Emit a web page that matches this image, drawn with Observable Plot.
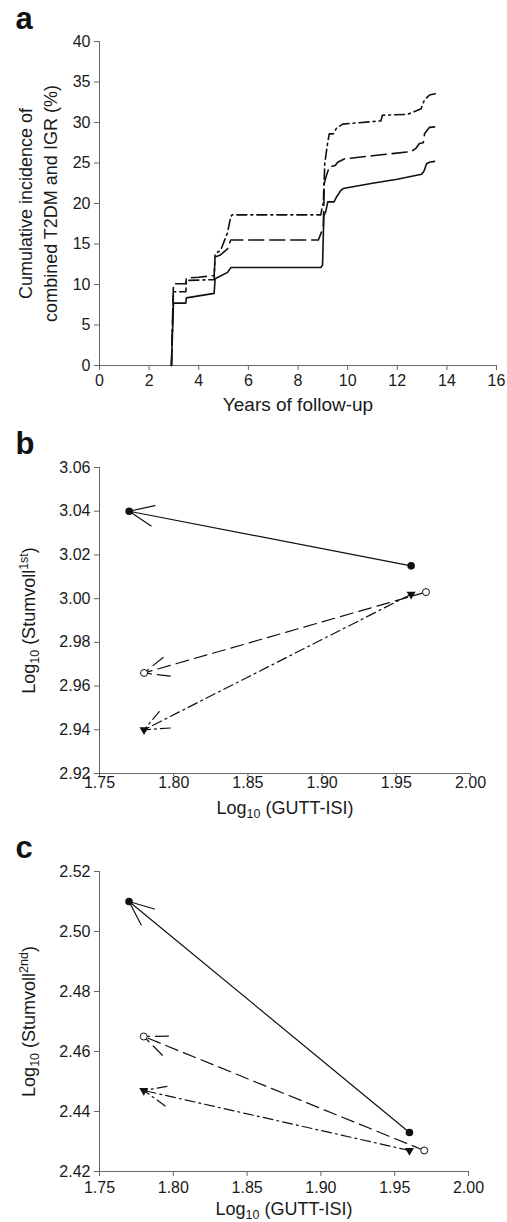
<!DOCTYPE html>
<html><head><meta charset="utf-8">
<script src="https://cdn.jsdelivr.net/npm/d3@7"></script>
<script src="https://cdn.jsdelivr.net/npm/@observablehq/plot@0.6"></script>
<style>
body{margin:0;background:#fff;}
#wrap{width:507px;}
#wrap svg{display:block;}
</style></head><body><div id="wrap"></div>
<script>
// ---------- Panel a : cumulative incidence (step curves) ----------
const aXTicks = [0, 2, 4, 6, 8, 10, 12, 14, 16];
const aYTicks = [0, 5, 10, 15, 20, 25, 30, 35, 40];
const solidT = [2.90, 2.98, 3.48, 3.50, 4.62, 4.66, 5.16, 5.30, 8.92, 8.99, 9.04, 9.12, 9.20, 9.45, 9.55, 9.62, 9.72, 9.82, 11.0, 12.0, 12.98, 13.08, 13.18, 13.30, 13.50];
const solidV = [0, 7.7, 7.7, 8.35, 8.9, 10.7, 11.5, 12.1, 12.1, 12.4, 18.5, 19.0, 20.2, 20.2, 20.8, 21.1, 21.6, 21.85, 22.5, 23.0, 23.6, 24.0, 24.9, 25.1, 25.2];
const dashedT = [2.90, 2.98, 3.48, 3.50, 4.0, 4.62, 4.66, 4.85, 5.16, 5.29, 8.82, 8.95, 9.02, 9.06, 9.15, 9.26, 9.50, 9.60, 9.86, 11.0, 12.55, 12.75, 12.89, 13.05, 13.10, 13.30, 13.63];
const dashedV = [0, 10.1, 10.1, 10.8, 10.9, 11.1, 13.4, 13.6, 14.4, 15.5, 15.5, 16.5, 17.0, 22.5, 23.5, 24.5, 24.7, 25.1, 25.5, 25.9, 26.4, 26.8, 27.4, 27.5, 28.6, 29.4, 29.5];
const dashdotT = [2.90, 2.98, 3.48, 3.50, 4.62, 4.66, 4.88, 5.16, 5.29, 5.35, 8.92, 8.97, 9.02, 9.08, 9.19, 9.26, 9.42, 9.55, 9.80, 11.34, 11.40, 12.41, 12.96, 13.09, 13.30, 13.63];
const dashdotV = [0, 9.1, 9.1, 10.5, 10.6, 13.8, 14.2, 16.4, 18.4, 18.6, 18.6, 19.5, 20.0, 25.0, 27.4, 28.6, 28.6, 29.3, 29.8, 30.2, 30.9, 31.0, 31.7, 32.75, 33.4, 33.6];

// ---------- Panels b & c : arrows between two time points ----------
const groups = ["solid", "dashed", "dashdot"];
const bX0 = [1.96, 1.97, 1.96];
const bY0 = [3.015, 3.003, 3.002];
const bX1 = [1.77, 1.78, 1.78];
const bY1 = [3.040, 2.966, 2.940];
const bXTicks = [1.75, 1.80, 1.85, 1.90, 1.95, 2.00];
const bYTicks = [2.92, 2.94, 2.96, 2.98, 3.00, 3.02, 3.04, 3.06];

const cX0 = [1.96, 1.97, 1.96];
const cY0 = [2.433, 2.427, 2.427];
const cX1 = [1.77, 1.78, 1.78];
const cY1 = [2.510, 2.465, 2.447];
const cXTicks = [1.75, 1.80, 1.85, 1.90, 1.95, 2.00];
const cYTicks = [2.42, 2.44, 2.46, 2.48, 2.50, 2.52];

// ---------- styling ----------
const font = "'Liberation Sans', Arial, Helvetica, sans-serif";
const axisGrey = "#666";
const ink = "#1a1a1a";
const dash = {solid: null, dashed: "15,6", dashdot: "10,4,2,4"};
const dashBC = {solid: null, dashed: "13,6", dashdot: "10,4,2,4"};

const seriesA = [
  ...solidT.map((t, i) => ({series: "solid", t, v: solidV[i]})),
  ...dashedT.map((t, i) => ({series: "dashed", t, v: dashedV[i]})),
  ...dashdotT.map((t, i) => ({series: "dashdot", t, v: dashdotV[i]}))
];

function panelLabel(txt, dy) {
  return Plot.text([txt], {frameAnchor: "top-left", dx: -84, dy, text: d => d, lineAnchor: "bottom",
    textAnchor: "start", fontSize: 31, fontWeight: "bold", fill: "#111"});
}

function richText(svg, plain, parts) {
  d3.select(svg).selectAll("text").filter(function () { return this.textContent === plain; }).each(function () {
    const t = d3.select(this);
    t.text(null);
    let shift = 0;
    parts.forEach(([s, kind]) => {
      const target = kind === "sub" ? 4 : kind === "sup" ? -7 : 0;
      const ts = t.append("tspan").text(s).attr("dy", target - shift);
      if (kind) ts.attr("font-size", 12.5);
      shift = target;
    });
  });
}

const wrap = document.getElementById("wrap");

// ---------- Panel a ----------
const plotA = Plot.plot({
  width: 507, height: 420, marginTop: 41, marginBottom: 55, marginLeft: 99, marginRight: 11,
  style: {fontFamily: font, fontSize: "16px", background: "white", color: ink},
  x: {domain: [0, 16], label: null},
  y: {domain: [0, 40], label: null},
  marks: [
    Plot.ruleX([0], {stroke: axisGrey}),
    Plot.ruleY([0], {stroke: axisGrey}),
    Plot.axisX({ticks: aXTicks, tickSize: 5, tickPadding: 4, stroke: axisGrey, fill: ink, label: null, fontSize: 16}),
    Plot.axisY({ticks: aYTicks, tickSize: 5, tickPadding: 4, stroke: axisGrey, fill: ink, label: null, fontSize: 16}),
    ...groups.map(g => Plot.line(seriesA.filter(d => d.series === g),
      {x: "t", y: "v", stroke: "#111", strokeWidth: 1.6, strokeDasharray: dash[g]})),
    Plot.text(["Years of follow-up"], {frameAnchor: "bottom", dy: 45, lineAnchor: "bottom", textAnchor: "middle", fontSize: 19, text: d => d}),
    Plot.text(["Cumulative incidence of\ncombined T2DM and IGR (%)"],
      {frameAnchor: "left", dx: -63, rotate: -90, lineHeight: 1.39, textAnchor: "middle", lineAnchor: "middle", fontSize: 18, text: d => d}),
    panelLabel("a", -13)
  ]
});
wrap.appendChild(plotA);

// ---------- Panels b and c ----------
function arrowPanel({x0, y0, x1, y1, xTicks, yTicks, height, marginTop, marginBottom, marginRight,
                     yTitle, labelTxt, labelDy, xTitleDy, xTickSize, xTickPadding}) {
  const arrows = groups.map((g, i) => ({g, x0: x0[i], y0: y0[i], x1: x1[i], y1: y1[i]}));
  const pts = groups.flatMap((g, i) => [{g, x: x0[i], y: y0[i]}, {g, x: x1[i], y: y1[i]}]);
  return Plot.plot({
    width: 507, height, marginTop, marginBottom, marginLeft: 99, marginRight,
    style: {fontFamily: font, fontSize: "16px", background: "white", color: ink},
    x: {domain: [xTicks[0], xTicks[xTicks.length - 1]], label: null},
    y: {domain: [yTicks[0], yTicks[yTicks.length - 1]], label: null},
    marks: [
      Plot.ruleX([xTicks[0]], {stroke: axisGrey}),
      Plot.ruleY([yTicks[0]], {stroke: axisGrey}),
      Plot.axisX({ticks: xTicks, tickFormat: d3.format(".2f"), tickSize: xTickSize, tickPadding: xTickPadding,
        stroke: axisGrey, fill: ink, label: null, fontSize: 16}),
      Plot.axisY({ticks: yTicks, tickFormat: d3.format(".2f"), tickSize: 5, tickPadding: 4,
        stroke: axisGrey, fill: ink, label: null, fontSize: 16}),
      ...groups.map(g => Plot.arrow(arrows.filter(d => d.g === g),
        {x1: "x0", y1: "y0", x2: "x1", y2: "y1", stroke: "#111", strokeWidth: 1.2,
         strokeDasharray: dashBC[g], headLength: 33, headAngle: 46})),
      Plot.dot(pts.filter(d => d.g === "solid"), {x: "x", y: "y", r: 3.8, fill: "#111", stroke: null}),
      Plot.dot(pts.filter(d => d.g === "dashed"), {x: "x", y: "y", r: 3.5, fill: "white", stroke: "#111", strokeWidth: 1}),
      Plot.dot(pts.filter(d => d.g === "dashdot"), {x: "x", y: "y", r: 4.3, symbol: "triangle2", rotate: 180, fill: "#111", stroke: null}),
      Plot.text(["Log10 (GUTT-ISI)"], {frameAnchor: "bottom", dy: xTitleDy, lineAnchor: "bottom", textAnchor: "middle", fontSize: 18, text: d => d}),
      Plot.text([yTitle], {frameAnchor: "left", dx: -65, rotate: -90, lineAnchor: "bottom", textAnchor: "middle", fontSize: 18, text: d => d}),
      panelLabel(labelTxt, labelDy)
    ]
  });
}

const plotB = arrowPanel({x0: bX0, y0: bY0, x1: bX1, y1: bY1, xTicks: bXTicks, yTicks: bYTicks,
  height: 400, marginTop: 47, marginBottom: 47, marginRight: 37,
  yTitle: "Log10 (Stumvoll1st)", labelTxt: "b", labelDy: -14, xTitleDy: 40, xTickSize: 3, xTickPadding: 0});
wrap.appendChild(plotB);
richText(plotB, "Log10 (GUTT-ISI)", [["Log"], ["10", "sub"], [" (GUTT-ISI)"]]);
richText(plotB, "Log10 (Stumvoll1st)", [["Log"], ["10", "sub"], [" (Stumvoll"], ["1st", "sup"], [")"]]);

const plotC = arrowPanel({x0: cX0, y0: cY0, x1: cX1, y1: cY1, xTicks: cXTicks, yTicks: cYTicks,
  height: 402, marginTop: 51, marginBottom: 51, marginRight: 39,
  yTitle: "Log10 (Stumvoll2nd)", labelTxt: "c", labelDy: -14, xTitleDy: 43, xTickSize: 5, xTickPadding: 5});
wrap.appendChild(plotC);
richText(plotC, "Log10 (GUTT-ISI)", [["Log"], ["10", "sub"], [" (GUTT-ISI)"]]);
richText(plotC, "Log10 (Stumvoll2nd)", [["Log"], ["10", "sub"], [" (Stumvoll"], ["2nd", "sup"], [")"]]);
</script>
</body></html>
